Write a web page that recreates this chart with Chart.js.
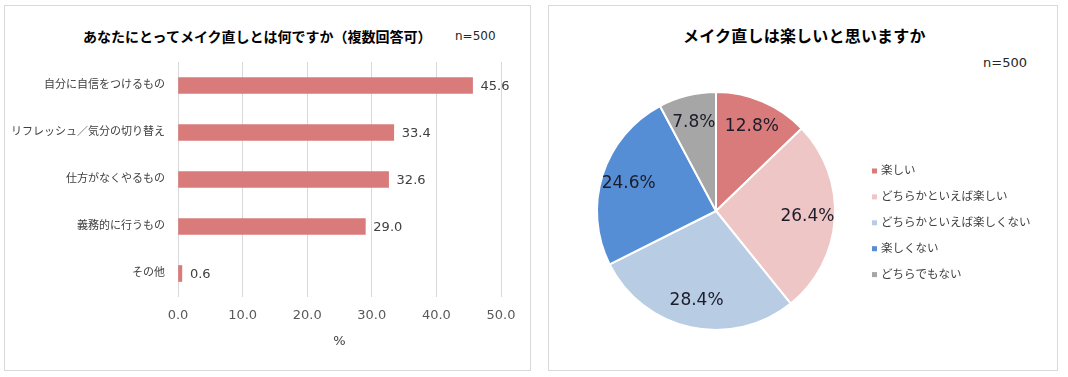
<!DOCTYPE html>
<html>
<head>
<meta charset="utf-8">
<script src="https://cdn.jsdelivr.net/npm/chart.js@4"></script>
<style>
  body { margin: 0; background: #fff; width: 1068px; height: 377px; position: relative; overflow: hidden; }
  .panel { position: absolute; border: 1px solid #d9d9d9; box-sizing: border-box; }
  .box { position: absolute; }
  .txt { position: absolute; white-space: nowrap; color: #000; }
</style>
</head>
<body>
<div class="panel" style="left:4px; top:5px; width:527px; height:366px;"></div>
<div class="panel" style="left:548px; top:5px; width:510px; height:366px;"></div>

<div class="txt" style="left:83px; top:27px; font: bold 14px 'Noto Sans CJK JP'; line-height:18px;">あなたにとってメイク直しとは何ですか（複数回答可）</div>
<div class="txt" style="left:455px; top:28px; font: 12px 'DejaVu Sans'; line-height:16px; color:#262626;">n=500</div>
<div class="txt" style="left:683px; top:25px; font: bold 16px 'Noto Sans CJK JP'; line-height:20px; letter-spacing:0.2px;">メイク直しは楽しいと思いますか</div>
<div class="txt" style="left:983px; top:55px; font: 13px 'DejaVu Sans'; line-height:16px; color:#262626;">n=500</div>

<div class="box" style="left:6px; top:7px; width:522px; height:362px;"><canvas id="barChart"></canvas></div>
<div class="box" style="left:549px; top:7px; width:505px; height:362px;"><canvas id="pieChart"></canvas></div>

<script>
// データ
const barLabels = ['自分に自信をつけるもの', 'リフレッシュ／気分の切り替え', '仕方がなくやるもの', '義務的に行うもの', 'その他'];
const barValues = [45.6, 33.4, 32.6, 29.0, 0.6];
const xTickValues = [0, 10, 20, 30, 40, 50];

const pieLabels = ['楽しい', 'どちらかといえば楽しい', 'どちらかといえば楽しくない', '楽しくない', 'どちらでもない'];
const pieValues = [12.8, 26.4, 28.4, 24.6, 7.8];

const barColor = '#d97b7a';
const pieColors = ['#d97b7a', '#eec6c6', '#b8cce4', '#558ed5', '#a6a6a6'];

const jpFont = '"DejaVu Sans", "Noto Sans CJK JP"';

// 棒の右に数値を表示
const barValueLabels = {
  id: 'barValueLabels',
  afterDatasetsDraw(chart) {
    const ctx = chart.ctx;
    const meta = chart.getDatasetMeta(0);
    ctx.save();
    ctx.font = '13px "DejaVu Sans"';
    ctx.fillStyle = '#404040';
    ctx.textAlign = 'left';
    ctx.textBaseline = 'middle';
    meta.data.forEach((bar, i) => {
      ctx.fillText(barValues[i].toFixed(1), bar.x + 8, bar.y + 1);
    });
    ctx.restore();
  }
};

new Chart(document.getElementById('barChart'), {
  type: 'bar',
  data: {
    labels: barLabels,
    datasets: [{
      data: barValues,
      backgroundColor: barColor,
      barThickness: 16
    }]
  },
  options: {
    indexAxis: 'y',
    responsive: true,
    maintainAspectRatio: false,
    animation: false,
    layout: { padding: { top: 55, right: 0, left: 0, bottom: 0 } },
    plugins: { legend: { display: false }, tooltip: { enabled: false } },
    scales: {
      x: {
        min: xTickValues[0],
        max: xTickValues[xTickValues.length - 1],
        afterFit: s => { s.height = 72; s.paddingRight = 27; s.paddingLeft = 0; },
        afterBuildTicks: s => { s.ticks = xTickValues.map(v => ({ value: v })); },
        ticks: {
          padding: 11,
          color: '#595959',
          font: { family: 'DejaVu Sans', size: 13 },
          callback: v => Number(v).toFixed(1)
        },
        grid: { color: '#d9d9d9', drawTicks: false },
        border: { display: false },
        title: {
          display: true,
          text: '%',
          color: '#404040',
          font: { family: 'DejaVu Sans', size: 13 },
          padding: { top: 0, bottom: 20 }
        }
      },
      y: {
        afterFit: s => { s.width = 172; },
        ticks: {
          padding: 13,
          color: '#404040',
          font: { family: jpFont, size: 11 }
        },
        grid: { display: false, drawTicks: false },
        border: { display: false }
      }
    }
  },
  plugins: [barValueLabels]
});

// 円グラフの中にパーセントを表示
const pieValueLabels = {
  id: 'pieValueLabels',
  afterDatasetsDraw(chart) {
    const ctx = chart.ctx;
    const meta = chart.getDatasetMeta(0);
    ctx.save();
    ctx.font = '17px "DejaVu Sans"';
    ctx.fillStyle = '#1c1c2a';
    ctx.textAlign = 'center';
    ctx.textBaseline = 'middle';
    meta.data.forEach((arc, i) => {
      const p = arc.getProps(['x', 'y', 'startAngle', 'endAngle', 'outerRadius'], true);
      const mid = (p.startAngle + p.endAngle) / 2;
      const r = p.outerRadius * 0.77;
      ctx.fillText(pieValues[i].toFixed(1) + '%', p.x + Math.cos(mid) * r, p.y + Math.sin(mid) * r);
    });
    ctx.restore();
  }
};

// 凡例
const pieLegend = {
  id: 'pieLegend',
  afterDraw(chart) {
    const ctx = chart.ctx;
    const x = chart.chartArea.right + 36;
    ctx.save();
    ctx.font = '11.5px ' + jpFont;
    ctx.textAlign = 'left';
    ctx.textBaseline = 'middle';
    pieLabels.forEach((label, i) => {
      const y = 164 + i * 25.9;
      ctx.fillStyle = pieColors[i];
      ctx.fillRect(x, y - 2.5, 5, 5);
      ctx.fillStyle = '#404040';
      ctx.fillText(label, x + 9, y);
    });
    ctx.restore();
  }
};

new Chart(document.getElementById('pieChart'), {
  type: 'pie',
  data: {
    labels: pieLabels,
    datasets: [{
      data: pieValues,
      backgroundColor: pieColors,
      borderColor: '#ffffff',
      borderWidth: 2
    }]
  },
  options: {
    responsive: true,
    maintainAspectRatio: false,
    animation: false,
    layout: { padding: { left: 47, right: 218, top: 84, bottom: 38 } },
    plugins: { legend: { display: false }, tooltip: { enabled: false } }
  },
  plugins: [pieValueLabels, pieLegend]
});
</script>
</body>
</html>
